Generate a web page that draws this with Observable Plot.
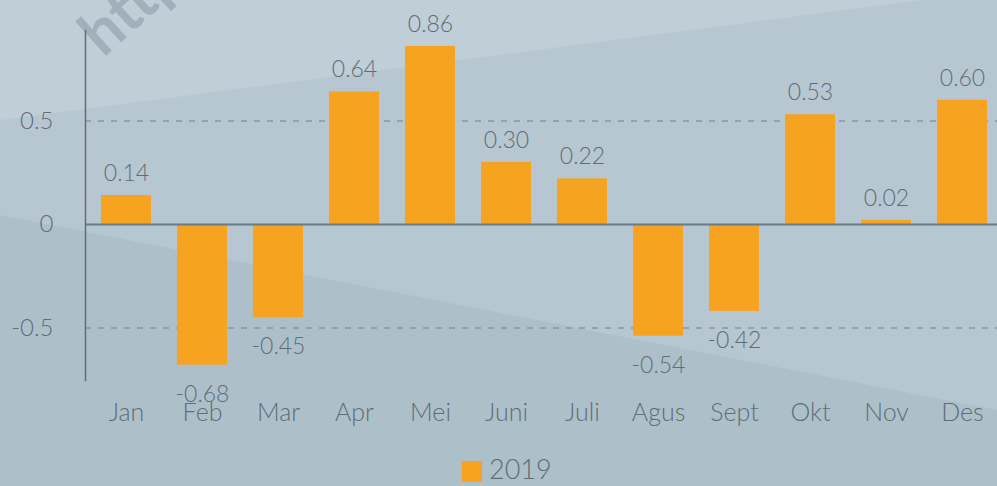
<!DOCTYPE html>
<html>
<head>
<meta charset="utf-8">
<script src="https://cdn.jsdelivr.net/npm/d3@7"></script>
<script src="https://cdn.jsdelivr.net/npm/@observablehq/plot@0.6"></script>
<style>
  html, body { margin: 0; padding: 0; }
  body { width: 997px; height: 486px; overflow: hidden; font-family: Lato, sans-serif; }
  #wrap { position: relative; width: 997px; height: 486px; background: #b7c7d1; overflow: hidden; }
  #bg { position: absolute; left: 0; top: 0; }
  #chart { position: absolute; left: 0; top: 0; }
  #legend { position: absolute; left: 0; top: 450px; width: 997px; height: 36px; }
  #legend .sw { position: absolute; left: 462px; top: 11px; width: 20px; height: 21px; background: #f5a320; }
  #legend .lb { position: absolute; left: 489px; top: 3px; font-size: 27px; font-weight: 300; color: #5f6d78; font-family: Lato, sans-serif; line-height: 32px; }
  #wm { position: absolute; left: 112px; top: -6px; font-size: 62px; font-weight: bold; color: #8d9ea9; opacity: 0.6;
        transform: rotate(-42deg); transform-origin: 0 100%; font-family: Lato, sans-serif; }
</style>
</head>
<body>
<div id="wrap">
  <svg id="bg" width="997" height="486">
    <polygon points="0,0 997,0 997,-10 0,120" fill="#c0ced7"/>
    <polygon points="0,215 997,410 997,486 0,486" fill="#adc0ca"/>
  </svg>
  <div id="wm">http</div>
  <div id="chart"></div>
  <div id="legend"><div class="sw"></div><div class="lb">2019</div></div>
</div>
<script>
const months = ["Jan","Feb","Mar","Apr","Mei","Juni","Juli","Agus","Sept","Okt","Nov","Des"];
const values2019 = [0.14,-0.68,-0.45,0.64,0.86,0.30,0.22,-0.54,-0.42,0.53,0.02,0.60];
const yTicks = [-0.5, 0, 0.5];
const yTickLabels = ["-0.5", "0", "0.5"];

const data = months.map((m, i) => ({month: m, value: values2019[i], label: values2019[i].toFixed(2)}));
const pos = data.filter(d => d.value >= 0);
const neg = data.filter(d => d.value < 0);

const textColor = "#5f6d78";
const chart = Plot.plot({
  width: 997,
  height: 450,
  marginTop: 30,
  marginBottom: 70,
  marginLeft: 85,
  marginRight: 0,
  style: {background: "transparent", fontFamily: "Lato, sans-serif", fontSize: "23px", fontWeight: 300, color: textColor},
  x: {domain: months, range: [87, 1001], paddingInner: 0.34, paddingOuter: 0.17, label: null, axis: null},
  y: {domain: [-0.754, 0.937], label: null, axis: null},
  marks: [
    Plot.ruleY([-0.5, 0.5], {stroke: "#8797a3", strokeWidth: 1.5, strokeDasharray: "6,7"}),
    Plot.barY(data, {x: "month", y: "value", fill: "#f5a320"}),
    Plot.ruleY([0], {stroke: "#687b88", strokeWidth: 2}),
    Plot.frame({anchor: "left", stroke: "#5f6d78", strokeWidth: 1.5}),
    Plot.text(pos, {x: "month", y: "value", text: "label", dy: -22, fill: textColor, fontSize: 23, fontWeight: 300}),
    Plot.text(neg, {x: "month", y: "value", text: "label", dy: 29, fill: textColor, fontSize: 23, fontWeight: 300}),
    Plot.axisY({ticks: yTicks, tickFormat: (d) => yTickLabels[yTicks.indexOf(d)], tickSize: 0, tickPadding: 32, fontSize: 24, fontWeight: 300, fill: textColor}),
    Plot.axisX({tickSize: 0, tickPadding: 23, fontSize: 25, fontWeight: 300, fill: textColor, frameAnchor: "bottom"})
  ]
});
document.getElementById("chart").appendChild(chart);
</script>
</body>
</html>
